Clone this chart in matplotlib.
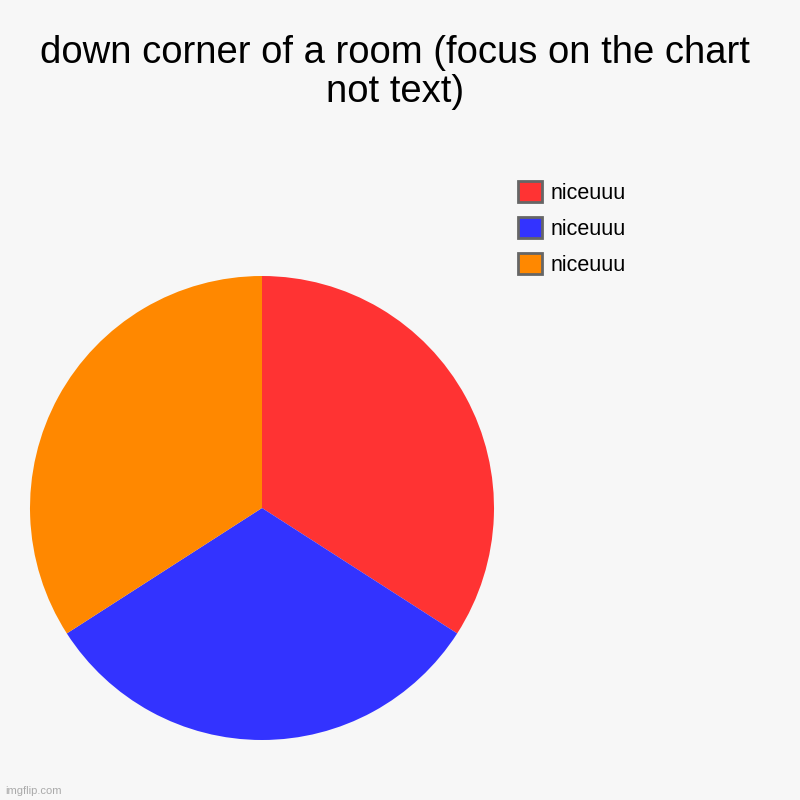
import matplotlib.pyplot as plt
from matplotlib.patches import Patch

plt.rcParams['font.family'] = ['Liberation Sans', 'DejaVu Sans']

# data
labels = ['niceuuu', 'niceuuu', 'niceuuu']
values = [15, 14, 15]
colors = ['#FF3333', '#3333FF', '#FF8800']
title = 'down corner of a room (focus on the chart\nnot text)'

fig = plt.figure(figsize=(8, 8), dpi=100, facecolor='#F7F7F7')

# pie axes placed to match reference
ax = fig.add_axes([0.0375, 0.075, 0.58, 0.58])
ax.pie(values, colors=colors, startangle=90, counterclock=False,
       wedgeprops=dict(linewidth=0))
ax.set_xlim(-1, 1)
ax.set_ylim(-1, 1)
ax.set_aspect('equal')

fig.suptitle(title, fontsize=27.5, x=0.494, y=0.956, va='top', linespacing=1.1)

# legend
handles = [Patch(facecolor=c, edgecolor='#666666', linewidth=2) for c in colors]
fig.legend(handles, labels, loc='upper left', bbox_to_anchor=(0.637, 0.7845),
           frameon=False, fontsize=15.5, handlelength=1.1, handleheight=1.1,
           handletextpad=0.4, labelspacing=0.63, borderaxespad=0)

fig.text(0.006, 0.005, 'imgflip.com', fontsize=8, color='#AAAAAA',
         ha='left', va='bottom')

fig.savefig('out.png', dpi=100, facecolor=fig.get_facecolor())
